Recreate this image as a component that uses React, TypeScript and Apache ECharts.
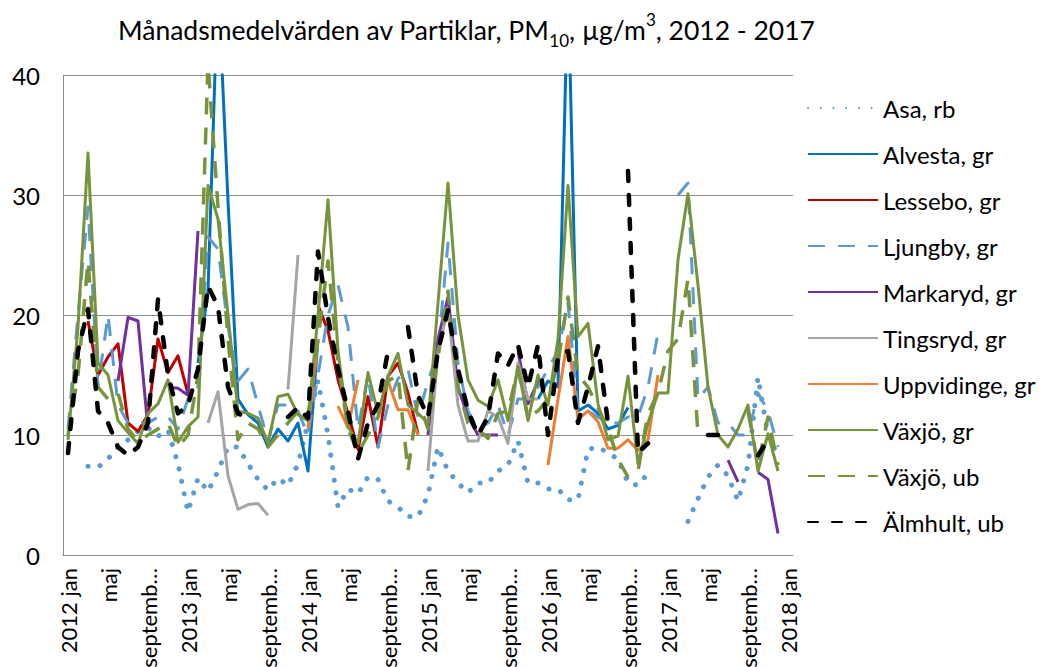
import React, { useEffect, useRef } from 'react';
import * as echarts from 'echarts';

const N = null;
const FONT = 'Lato, "Noto Sans", sans-serif';

const monthNames = ['jan', 'feb', 'mars', 'april', 'maj', 'juni', 'juli', 'augusti', 'september', 'oktober', 'november', 'december'];
const years = [2012, 2013, 2014, 2015, 2016, 2017];
const categories: string[] = [];
years.forEach((y) => monthNames.forEach((m, i) => categories.push(i === 0 ? `${y} jan` : m)));
categories.push('2018 jan');

const seriesNames = ['Asa, rb', 'Alvesta, gr', 'Lessebo, gr', 'Ljungby, gr', 'Markaryd, gr', 'Tingsryd, gr', 'Uppvidinge, gr', 'Växjö, gr', 'Växjö, ub', 'Älmhult, ub'];

const asa = [
  N, N, 7.4, 7.3, 8.0, 9.0, 9.6, 10.3, 10.6, 9.9, 10.4, 7.6,
  3.6, 6.4, 5.3, 7.0, 9.0, 9.0, 7.6, 6.3, 5.4, 6.4, 5.8, 7.6,
  11, 14.5, 10, 4, 5.5, 5.1, 6.5, 6.3, 4.5, 4.0, 3.2, 3.2,
  5.0, 9.0, 7.0, 6.0, 5.2, 6.0, 6.0, 7.0, 7.5, 9.5, 6.0, 6.0,
  5.5, 5.5, 4.6, 4.6, 8.8, 9.0, 8.5, 8.0, 6.0, 5.8, 6.8, N,
  N, N, 2.8, 4.7, 6.5, 7.5, 6.6, 4.5, 7.5, 14.8, 10, 8.2,
  N,
];
const alvesta = [
  N, N, N, N, N, N, N, N, N, N, N, N,
  N, 16, 22, 48, 29.5, 13, 11.7, 11, 9, 10.5, 9.5, 11,
  7, 18, N, N, N, N, N, N, N, N, N, N,
  N, N, N, N, N, N, N, N, N, N, N, 13,
  14.5, 14, 48, 12, 12.5, 11.8, 10.5, 10.8, 12.3, N, N, N,
  N, N, N, N, N, N, N, N, N, N, N, N,
  N,
];
const lessebo = [
  N, N, 19.5, 15, 16.5, 17.6, 11, 10.3, 11.7, 18, 15.2, 16.6,
  13.4, N, N, N, N, N, N, N, N, N, N, N,
  N, 20.8, 18.7, 14.6, 11.8, 8.8, 13.2, 9, 14.9, 16, 13.5, 10.1,
  N, N, N, N, N, N, N, N, N, N, N, N,
  N, N, N, N, N, N, N, N, N, N, N, N,
  N, N, N, N, N, N, N, N, N, N, N, N,
  N,
];
const ljungby = [
  10.5, 20, 29, 14, 20, 12.5, 11, 11, 11, 11.5, 11.5, 10.5,
  13, 14, 26.5, 25.5, 19, 14.5, 15.5, 12.5, 9.5, 12.5, 12.5, 12,
  10, 15, 20, 22.5, 19, 10.5, 15, 9, 12.5, 14.7, 15.5, 11.5,
  14.5, 17, 26, 16, 12, 10.5, 11, 12.5, 10, 13, 13, 14,
  15.5, 17, 21, 12, 12, 11.5, 11, 11, 11.5, 11.5, 14, 18.5,
  N, 30, 31, 13, 14, 11, 11, 10, 10, 13.5, 12, 9,
  N,
];
const markaryd = [
  N, N, N, N, N, 14.5, 19.8, 19.5, 10.5, N, 14, 13.9,
  13.3, 27, N, N, N, N, N, N, N, N, N, N,
  N, N, N, N, N, N, N, N, N, N, N, N,
  10, 18, 21.5, 14, 11.5, 10, 10, 10, N, 17, 12.6, 14.5,
  N, N, N, N, N, N, N, N, N, N, N, N,
  N, N, N, N, N, N, 7.9, 6.1, N, 6.9, 6.3, 1.8,
  N,
];
const tingsryd = [
  N, N, N, N, N, N, N, N, N, N, N, N,
  N, N, 11, 13.6, 6.6, 3.8, 4.2, 4.3, 3.3, N, 13.8, 25,
  N, N, N, N, N, N, N, N, N, N, N, N,
  7, 17, 20.5, 12.5, 9.5, 9.5, 12, 11.5, 9.3, 16, 13, 13,
  N, N, N, N, N, N, N, N, N, N, N, N,
  N, N, N, N, N, N, N, N, N, N, N, N,
  N,
];
const uppvidinge = [
  N, N, N, N, N, N, N, N, N, N, N, N,
  N, N, N, N, N, N, N, N, N, N, N, N,
  10.5, 18, N, 12.4, 10.6, 14.6, N, N, 14.5, 12.1, 12.1, 10,
  N, N, N, N, N, N, N, N, N, N, N, N,
  7.5, 13, 18.2, 11.3, 12, 11.1, 8.9, 8.9, 9.6, 8.7, 9.6, 15,
  N, N, N, N, N, N, N, N, N, N, N, N,
  N,
];
const vaxjoGr = [
  9.6, 19, 33.5, 16, 15, 11.2, 10.2, 9.3, 11.8, 12.6, 14.6, 9.4,
  10.7, 11.5, 30.8, 28, 20, 12, 11.8, 11.4, 9.3, 13.2, 13.4, 11.7,
  11.2, 20, 29.6, 17, 10.7, 9.3, 15.2, 11.8, 14.9, 16.8, 12.5, 11.8,
  11, 21, 31, 20, 14.6, 12.9, 12.4, 14.6, 11.2, 15.7, 11.2, 15,
  12.5, 18, 30.8, 18.2, 19.3, 12.6, 9.6, 9.9, 14.9, 7.6, 11, 13.5,
  13.5, 24.6, 30.1, 22.5, 14, 10, 9, 10.5, 12.5, 7, 10.1, 7,
  N,
];
const vaxjoUb = [
  10, 15, 24.5, 14, 13, 13.5, 10.5, 9.5, 10, 10.5, 11, 9,
  10, 15, 41, 29, 18, 9.6, 11, 10.5, 9, 10, 11, 12,
  11.5, 18, 24.5, 16, 10.5, 8.5, 10, 11.5, 14.5, 15, 7, 13,
  10.5, 16.5, 22, 14, 11, 10.5, 9.7, 11.8, 12, 15.5, 11.5, 12,
  13, 16, 21.5, 15, 14, 12.3, 10.5, 8, 6.5, 7, 11.8, 13.5,
  17, 18, 23, 10, N, N, N, N, 12, 7.5, 11.5, 7.5,
  N,
];
const almhult = [
  8.5, 17, 20.5, 12, 11, 9, 8.3, 9, 11, 21.3, 15, 11.8,
  12.5, 15.5, 22.4, 20.7, 14, 11.8, 11.4, N, N, N, 11.5, 12.3,
  11.4, 25.3, 19.8, 15.5, 12, 8, 11, 12.5, 17, N, 19, 13.3,
  11.5, 17, 20.4, 15.5, 12, 10, 11.5, 16.8, 15.8, 17.5, 14, 17.5,
  10, 16.5, 17, 11, 14, 17.4, 11, N, 32, 8.5, 9.3, N,
  N, N, N, N, 10, 10, 10, N, N, 8.3, 9.6, N,
  N,
];

const seriesData = [asa, alvesta, lessebo, ljungby, markaryd, tingsryd, uppvidinge, vaxjoGr, vaxjoUb, almhult];
const seriesColors = ['#5B9BD5', '#0070C0', '#C00000', '#5B9BD5', '#7030A0', '#A5A5A5', '#ED7D31', '#77933C', '#77933C', '#000000'];
const seriesDash: any[] = [[0.1, 12.6], 'solid', 'solid', [17, 13], 'solid', 'solid', 'solid', 'solid', [17, 13], [10, 14]];
const seriesWidth = [5, 3, 3, 3, 3, 3, 3, 3, 3.5, 4.5];
const seriesCap: any[] = ['round', 'butt', 'butt', 'butt', 'butt', 'butt', 'butt', 'butt', 'butt', 'round'];

export default function App() {
  const ref = useRef<HTMLDivElement>(null);
  useEffect(() => {
    if (!ref.current) return;
    const chart = echarts.init(ref.current, undefined, { renderer: 'svg' });
    const grid = '#8c8c8c';
    chart.setOption({
      animation: false,
      backgroundColor: '#ffffff',
      title: {
        text: '{a|Månadsmedelvärden av Partiklar, PM}{s|10}{a|, µg/m}{p|3}{a|, 2012 - 2017}',
        left: 118,
        top: 11,
        padding: 0,
        textStyle: {
          fontWeight: 'normal',
          rich: {
            a: { fontFamily: FONT, fontSize: 26.5, fontWeight: 'normal', color: '#000', lineHeight: 38 },
            s: { fontFamily: FONT, fontSize: 17, fontWeight: 'normal', color: '#000', lineHeight: 18, verticalAlign: 'bottom' },
            p: { fontFamily: FONT, fontSize: 17, fontWeight: 'normal', color: '#000', lineHeight: 26, verticalAlign: 'top' },
          },
        },
      },
      legend: {
        orient: 'vertical',
        left: 807,
        top: 95,
        padding: 0,
        itemWidth: 70,
        itemHeight: 14,
        itemGap: 20,
        data: seriesNames,
        itemStyle: { opacity: 0, borderWidth: 0 },
        textStyle: { fontFamily: FONT, fontSize: 24, color: '#000', lineHeight: 26 },
      },
      grid: { left: 63, right: 250, top: 75, bottom: 112, containLabel: false, outerBoundsMode: 'none' },
      xAxis: {
        type: 'category',
        data: categories,
        boundaryGap: true,
        axisLine: { lineStyle: { color: grid, width: 1 } },
        axisTick: { interval: 0, length: 5, lineStyle: { color: grid } },
        axisLabel: {
          interval: 3,
          rotate: 90,
          margin: 13,
          fontFamily: FONT,
          fontSize: 22,
          color: '#000',
          formatter: (v: string) => (v.length > 8 ? v.slice(0, 7) + '…' : v),
        },
        splitLine: { show: false },
      },
      yAxis: {
        type: 'value',
        min: 0,
        max: 40,
        interval: 10,
        axisLine: { show: true, lineStyle: { color: grid } },
        axisTick: { show: false },
        axisLabel: { fontFamily: FONT, fontSize: 24, color: '#000', margin: 23 },
        splitLine: { lineStyle: { color: grid, width: 1 } },
      },
      series: seriesNames.map((name, k) => ({
        name,
        type: 'line',
        data: seriesData[k],
        symbol: 'none',
        connectNulls: false,
        clip: true,
        itemStyle: { color: seriesColors[k] },
        lineStyle: { color: seriesColors[k], width: seriesWidth[k], type: seriesDash[k], cap: seriesCap[k], join: 'round' },
      })),
    });
    return () => chart.dispose();
  }, []);
  return <div ref={ref} style={{ position: 'fixed', left: 0, top: 0, width: 1043, height: 667, background: '#fff' }} />;
}
